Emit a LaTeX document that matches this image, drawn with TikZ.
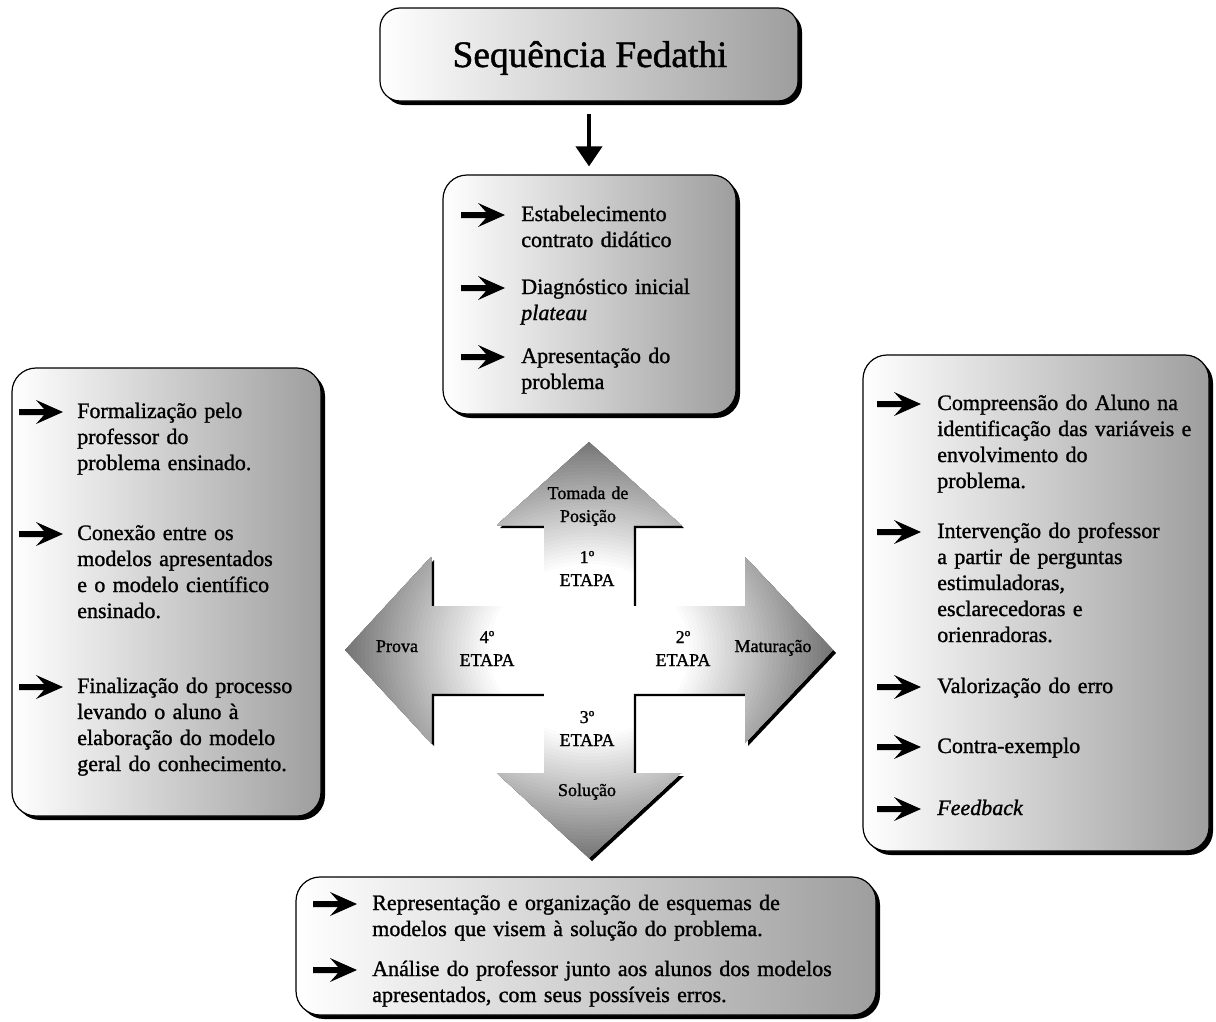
\documentclass[tikz,border=0pt]{standalone}
\usepackage{fontspec}
\setmainfont{Liberation Serif}[FakeBold=1.2]
\usetikzlibrary{shadows,arrows.meta}
\newcommand\bodyfont{\fontsize{16.5}{19.5}\selectfont}
\newcommand\smallfnt{\fontsize{13.5}{17.25}\selectfont}
\newcommand\titlefnt{\fontsize{28}{32}\selectfont}
\tikzset{
  box/.style={draw=black, line width=0.9pt, rounded corners=18pt, left color=white, right color=black!38,
    drop shadow={shadow xshift=3pt, shadow yshift=-3pt, fill=black, opacity=1}, inner sep=0pt},
  itemtext/.style={anchor=base west, inner sep=0pt, align=left, text width=520pt, font=\bodyfont},
  crosslbl/.style={anchor=base, inner sep=0pt, align=center, text width=90pt, font=\smallfnt},
  bularrow/.pic={\fill (0,-3) -- (25,-3) -- (17,-12) -- (44,0) -- (17,12) -- (25,3) -- (0,3) -- cycle;}
}
\begin{document}
\begin{tikzpicture}[x=0.75pt,y=-0.75pt]
\useasboundingbox (0,0) rectangle (1216,1021);
% boxes
\node[box, rounded corners=15pt, minimum width=313.5pt, minimum height=69.75pt] (title) at (589,54.5) {};
\node[box, minimum width=219.75pt, minimum height=179.25pt] (top) at (589.5,294.5) {};
\node[box, minimum width=231.75pt, minimum height=336pt] (left) at (166.5,592) {};
\node[box, minimum width=259.5pt, minimum height=372pt] (right) at (1036,603) {};
\node[box, minimum width=435pt, minimum height=103.5pt] (bottom) at (586,946) {};
\node[anchor=base, inner sep=0pt, font=\titlefnt] (ttl) at (590,67) {Sequência Fedathi};
% arrow title -> top
\draw[line width=3pt, -{Triangle[length=15pt,width=19.5pt]}, shorten <=9pt, shorten >=6pt] (title.south) -- (title.south |- top.north);
% top box
\pic at (461,215) {bularrow};
\node[itemtext] (t1) at (521,221) {Estabelecimento\\contrato didático};
\pic at (461,288) {bularrow};
\node[itemtext] (t2) at (521,294) {Diagnóstico inicial\\\textit{plateau}};
\pic at (461,357) {bularrow};
\node[itemtext] (t3) at (521,363) {Apresentação do\\problema};
% left box
\pic at (19,412) {bularrow};
\node[itemtext] (l1) at (77,418) {Formalização pelo\\professor do\\problema ensinado.};
\pic at (19,534) {bularrow};
\node[itemtext] (l2) at (77,540) {Conexão entre os\\modelos apresentados\\e o modelo científico\\ensinado.};
\pic at (19,687) {bularrow};
\node[itemtext] (l3) at (77,693) {Finalização do processo\\levando o aluno à\\elaboração do modelo\\geral do conhecimento.};
% right box
\pic at (877,404) {bularrow};
\node[itemtext] (r1) at (937,410) {Compreensão do Aluno na\\identificação das variáveis e\\envolvimento do\\problema.};
\pic at (877,532) {bularrow};
\node[itemtext] (r2) at (937,538) {Intervenção do professor\\a partir de perguntas\\estimuladoras,\\esclarecedoras e\\orienradoras.};
\pic at (877,687) {bularrow};
\node[itemtext] (r3) at (937,693) {Valorização do erro};
\pic at (877,747) {bularrow};
\node[itemtext] (r4) at (937,753) {Contra-exemplo};
\pic at (877,809) {bularrow};
\node[itemtext] (r5) at (937,815) {\textit{Feedback}};
% bottom box
\pic at (313,904) {bularrow};
\node[itemtext] (b1) at (372,910) {Representação e organização de esquemas de\\modelos que visem à solução do problema.};
\pic at (313,970) {bularrow};
\node[itemtext] (b2) at (372,976) {Análise do professor junto aos alunos dos modelos\\apresentados, com seus possíveis erros.};
% cross
\def\crosspath{(589,442) -- (681,525) -- (633,525) -- (633,606) -- (745,606) -- (745,557) -- (833,650) -- (745,743) -- (745,693) -- (633,693) -- (633,773) -- (681,773) -- (589,858) -- (497,773) -- (544,773) -- (544,693) -- (431,693) -- (431,743) -- (345,650) -- (431,557) -- (431,606) -- (544,606) -- (544,525) -- (497,525) -- cycle}
\fill[black, shift={(3,3)}] \crosspath;
\begin{scope}
\clip \crosspath;
\fill[white] \crosspath;
\foreach \r in {252,248,...,100} {
  \pgfmathsetmacro\pc{max(0,min(55,55*(\r-100)/146))}
  \fill[black!\pc] (589,650) ellipse [x radius=\r, y radius=0.86*\r];
}
\end{scope}
\node[crosslbl] (tom) at (588,499) {Tomada de\\Posição};
\node[crosslbl] (e1) at (587,563) {1º\\ETAPA};
\node[crosslbl] (prova) at (397,652) {Prova};
\node[crosslbl] (e4) at (487,643) {4º\\ETAPA};
\node[crosslbl] (e2) at (683,643) {2º\\ETAPA};
\node[crosslbl] (mat) at (773,652) {Maturação};
\node[crosslbl] (e3) at (587,723) {3º\\ETAPA};
\node[crosslbl] (sol) at (587,796) {Solução};
\end{tikzpicture}
\end{document}
